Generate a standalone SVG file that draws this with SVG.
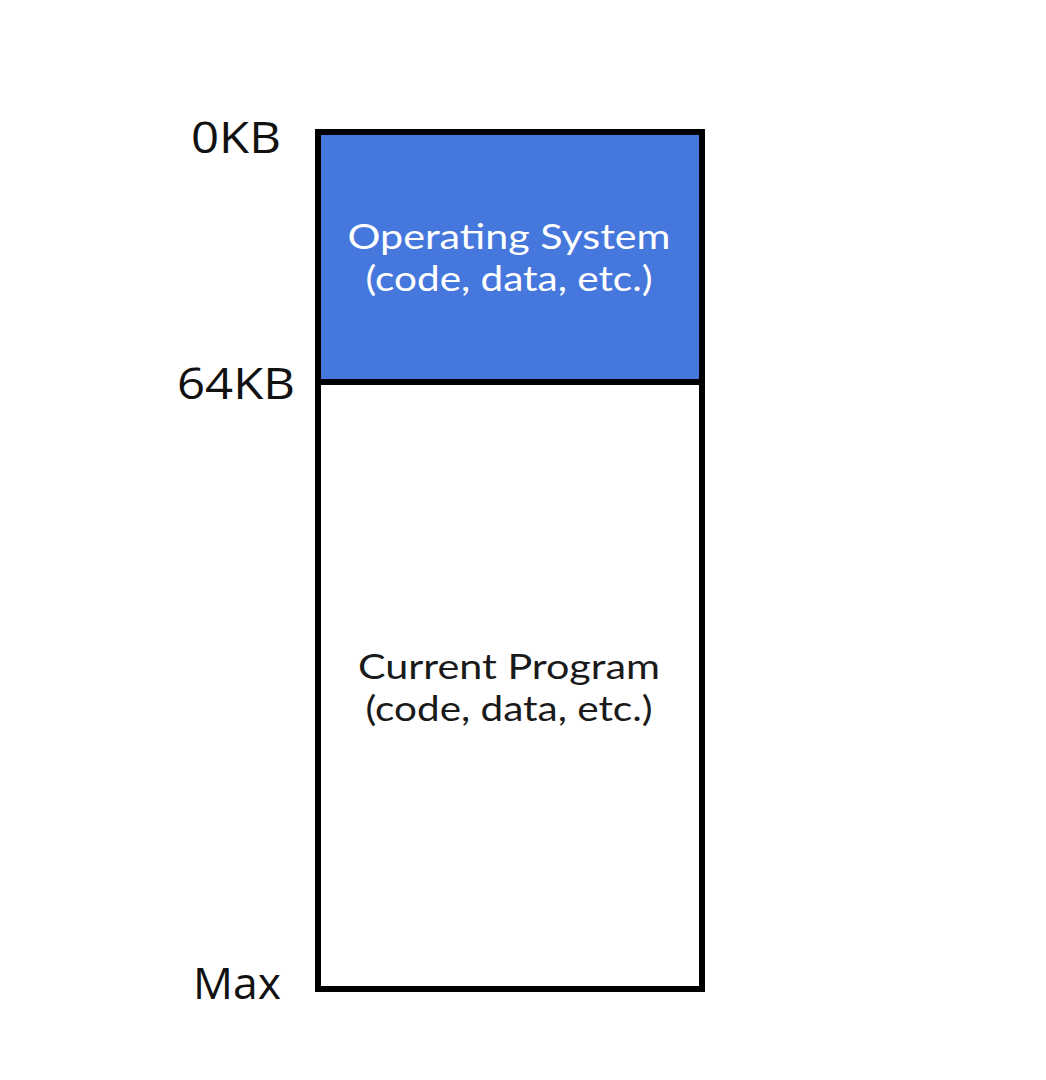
<svg xmlns="http://www.w3.org/2000/svg" width="1046" height="1080" viewBox="0 0 1046 1080">
<style>
.lbl{font-family:"Open Sans","DejaVu Sans",sans-serif;font-size:43px;fill:#111;text-anchor:middle}
.in{font-family:Lato,"Open Sans",sans-serif;font-size:35px;text-anchor:middle}
.box{stroke:#000;stroke-width:6}
</style>
<rect width="1046" height="1080" fill="#fff"/>
<g id="memory">
<g id="os">
<rect class="box" x="318" y="132" width="384" height="250" fill="#4677dd"/>
<text class="in" x="509" y="249" fill="#fff" textLength="323" lengthAdjust="spacingAndGlyphs">Operating System</text>
<text class="in" x="509" y="291" fill="#fff" textLength="287" lengthAdjust="spacingAndGlyphs">(code, data, etc.)</text>
</g>
<g id="program">
<rect class="box" x="318" y="382" width="384" height="607" fill="#fff"/>
<text class="in" x="509" y="679" fill="#1a1a1a" textLength="302" lengthAdjust="spacingAndGlyphs">Current Program</text>
<text class="in" x="509" y="721" fill="#1a1a1a" textLength="287" lengthAdjust="spacingAndGlyphs">(code, data, etc.)</text>
</g>
</g>
<g id="labels">
<text class="lbl" x="236" y="153" textLength="90" lengthAdjust="spacingAndGlyphs">0KB</text>
<text class="lbl" x="236" y="399" textLength="118" lengthAdjust="spacingAndGlyphs">64KB</text>
<text class="lbl" x="237" y="999" textLength="88" lengthAdjust="spacingAndGlyphs">Max</text>
</g>
<g id="connectors"/>
</svg>
